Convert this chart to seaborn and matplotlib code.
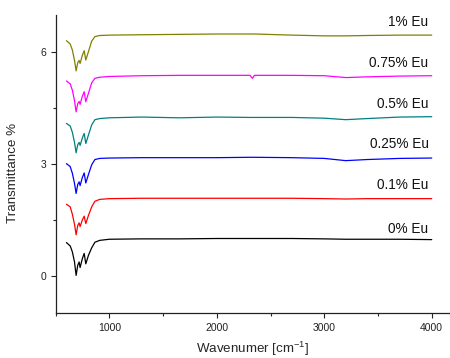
import matplotlib
matplotlib.use("Agg")
import matplotlib.pyplot as plt
import seaborn as sns
import pandas as pd
from matplotlib.ticker import MultipleLocator

# ---- data ----
wavenumber = [600, 635, 655, 675, 690, 705, 718, 727, 748, 765, 780, 805, 835, 865,
              910, 1000, 1300, 1650, 2000, 2310, 2330, 2350, 2700, 3000, 3200, 3400,
              3700, 4000]

t_0 = [0.89, 0.80, 0.64, 0.37, 0.01, 0.28, 0.37, 0.22, 0.46, 0.60, 0.32, 0.55, 0.75, 0.90,
       0.95, 0.98, 0.99, 0.99, 1.00, 1.00, 1.00, 1.00, 1.00, 0.99, 0.98, 0.98, 0.98, 0.97]
t_01 = [1.92, 1.85, 1.65, 1.38, 1.10, 1.35, 1.42, 1.32, 1.50, 1.60, 1.40, 1.62, 1.85, 2.00,
        2.05, 2.07, 2.08, 2.08, 2.08, 2.08, 2.08, 2.08, 2.08, 2.07, 2.06, 2.07, 2.07, 2.07]
t_025 = [3.01, 2.93, 2.75, 2.48, 2.21, 2.45, 2.52, 2.42, 2.64, 2.76, 2.49, 2.72, 2.98, 3.12,
         3.15, 3.16, 3.17, 3.17, 3.17, 3.18, 3.18, 3.18, 3.17, 3.15, 3.09, 3.12, 3.15, 3.16]
t_05 = [4.09, 4.02, 3.85, 3.58, 3.30, 3.52, 3.58, 3.50, 3.70, 3.82, 3.55, 3.78, 4.05, 4.19,
        4.22, 4.24, 4.26, 4.24, 4.26, 4.25, 4.25, 4.25, 4.25, 4.23, 4.19, 4.22, 4.26, 4.27]
t_075 = [5.23, 5.15, 4.98, 4.70, 4.40, 4.62, 4.68, 4.60, 4.82, 4.94, 4.67, 4.90, 5.18, 5.30,
         5.33, 5.35, 5.37, 5.38, 5.38, 5.38, 5.30, 5.38, 5.38, 5.37, 5.32, 5.34, 5.36, 5.37]
t_1 = [6.31, 6.22, 6.06, 5.78, 5.50, 5.72, 5.78, 5.70, 5.92, 6.04, 5.79, 6.02, 6.30, 6.42,
       6.45, 6.46, 6.47, 6.48, 6.49, 6.49, 6.49, 6.49, 6.46, 6.44, 6.44, 6.45, 6.46, 6.46]

series_labels = ["0% Eu", "0.1% Eu", "0.25% Eu", "0.5% Eu", "0.75% Eu", "1% Eu"]
series_values = [t_0, t_01, t_025, t_05, t_075, t_1]
label_y = [1.26, 2.43, 3.53, 4.60, 5.70, 6.81]
colors = ["#000000", "#ff0000", "#0000ff", "#008080", "#ff00ff", "#808000"]

xticks = [1000, 2000, 3000, 4000]
yticks = [0, 3, 6]

# ---- build long-form table ----
rows = []
for lab, vals in zip(series_labels, series_values):
    for w, t in zip(wavenumber, vals):
        rows.append({"Wavenumber": w, "T": t, "Sample": lab})
df = pd.DataFrame(rows)

sns.set_style("ticks")
plt.rcParams["font.family"] = ["Liberation Sans", "DejaVu Sans"]
plt.rcParams["mathtext.fontset"] = "custom"
plt.rcParams["mathtext.rm"] = "Liberation Sans"
plt.rcParams["mathtext.default"] = "regular"

fig = plt.figure(figsize=(4.5, 3.58), dpi=100)
ax = fig.add_axes([0.1238, 0.1257, 0.8762, 0.8324])

sns.lineplot(data=df, x="Wavenumber", y="T", hue="Sample",
             palette=dict(zip(series_labels, colors)), linewidth=0.9,
             legend=False, ax=ax, sort=False)

for lab, ly in zip(series_labels, label_y):
    ax.text(3970, ly, lab, ha="right", va="center", fontsize=9.8, color="#111111")

ax.set_xlim(500, 4170)
ax.set_ylim(-1.0, 7.0)
ax.set_xticks(xticks)
ax.set_yticks(yticks)
ax.xaxis.set_minor_locator(MultipleLocator(500))
ax.yaxis.set_minor_locator(MultipleLocator(1.5))
ax.tick_params(axis="both", which="major", direction="out", length=3.5, width=0.8,
               labelsize=7.5, colors="#222222")
ax.tick_params(axis="both", which="minor", direction="out", length=2.2, width=0.8)

for s in ["top", "right"]:
    ax.spines[s].set_visible(False)
for s in ["left", "bottom"]:
    ax.spines[s].set_linewidth(0.9)
    ax.spines[s].set_color("#222222")

ax.set_xlabel("Wavenumer [cm$^{-1}$]", fontsize=9.6, labelpad=5)
ax.set_ylabel("Transmittance %", fontsize=9.6)
ax.yaxis.set_label_coords(-0.093, 0.47)

fig.savefig("out.png", dpi=100)
